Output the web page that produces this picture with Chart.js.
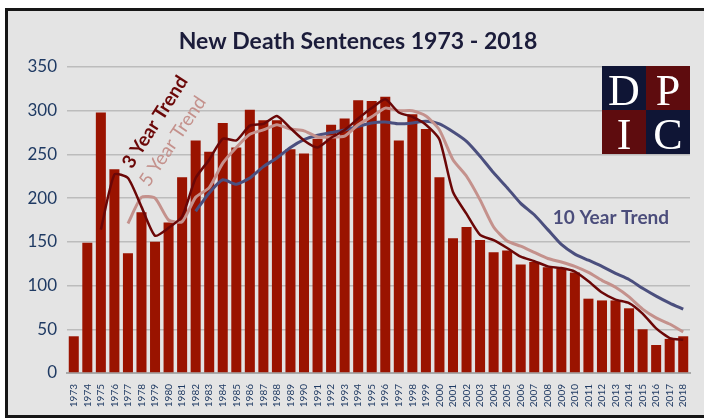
<!DOCTYPE html>
<html>
<head>
<meta charset="utf-8">
<script src="https://cdn.jsdelivr.net/npm/chart.js@4"></script>
<style>
body{margin:0;background:#fff;}
#frame{position:absolute;left:5px;top:8px;width:710px;height:404px;border:3px solid #161616;background:#e4e4e4;}
#myChart{position:absolute;left:0;top:0;}
</style>
</head>
<body>
<div id="frame"></div>
<canvas id="myChart" width="704" height="420"></canvas>
<script>
const years=['1973','1974','1975','1976','1977','1978','1979','1980','1981','1982','1983','1984','1985','1986','1987',
    '1988','1989','1990','1991','1992','1993','1994','1995','1996','1997','1998','1999','2000','2001','2002','2003',
    '2004','2005','2006','2007','2008','2009','2010','2011','2012','2013','2014','2015','2016','2017','2018'];

const sentences=[42,149,298,233,137,184,150,172,224,266,253,286,258,301,289,
    289,256,251,268,284,291,312,311,316,266,296,279,224,154,167,152,
    138,140,124,127,121,119,115,85,83,83,74,50,32,39,42];

const trend3=[null,null,164,227,223,190,157,166,179,223,244,268,266,283,285,
    294,280,266,258,269,278,291,303,313,298,293,284,267,207,182,158,
    152,143,133,128,122,120,116,105,92,84,80,68,51,40,38];

const trend5=[null,null,null,null,171,201,200,175,173,201,212,240,258,273,278,
    284,279,277,270,270,271,284,293,303,300,300,294,278,244,225,198,
    167,151,145,138,131,127,122,115,106,98,87,73,63,56,47];

const trend10=[null,null,null,null,null,null,null,null,null,185,206,221,216,223,236,
    246,258,267,272,275,278,282,286,287,285,286,288,285,276,265,248,
    229,212,194,181,164,147,136,129,122,114,107,97,88,80,73];

const yTicks=[0,50,100,150,200,250,300,350];

const navy='#1f3a63';

const extras={
    id:'extras',
    afterDatasetsDraw(chart){
        const ctx=chart.ctx;
        const x=chart.scales.x, y=chart.scales.y;
        ctx.save();
        // title
        ctx.fillStyle='#1b1c3a';
        ctx.font='bold 23px Lato';
        ctx.textAlign='center';
        ctx.textBaseline='middle';
        ctx.fillText('New Death Sentences 1973 - 2018',358,42);

        // trend labels
        const label=(txt,xi,v,ang,font,color)=>{
            ctx.save();
            ctx.translate(x.getPixelForValue(xi),y.getPixelForValue(v));
            ctx.rotate(ang*Math.PI/180);
            ctx.font=font;
            ctx.fillStyle=color;
            ctx.textAlign='center';
            ctx.textBaseline='middle';
            ctx.fillText(txt,0,0);
            ctx.restore();
        };
        label('3 Year Trend',6,287,-57.5,'bold 19px Lato','#6b0707');
        label('5 Year Trend',7.3,265,-56,'19px Lato','#c4918c');
        label('10 Year Trend',39.66,177,0,'bold 19px Lato','#4b4d7b');

        // DPIC logo
        const lx=602, ly=66, s=44;
        const cells=[['D','#0f1535',0,0],['P','#5e0c0e',1,0],['I','#5e0c0e',0,1],['C','#0f1535',1,1]];
        cells.forEach(c=>{
            ctx.fillStyle=c[1];
            ctx.fillRect(lx+c[2]*s,ly+c[3]*s,s,s);
            ctx.fillStyle='#ffffff';
            ctx.font='44px "Liberation Serif"';
            ctx.textAlign='center';
            ctx.textBaseline='alphabetic';
            ctx.fillText(c[0],lx+c[2]*s+s/2,ly+c[3]*s+s-5);
        });
        ctx.restore();
    }
};

const data={
    labels:years,
    datasets:[
        {type:'line',label:'3 Year Trend',data:trend3,borderColor:'#6b0707',borderWidth:2.5,pointRadius:0,tension:0.2,order:1},
        {type:'line',label:'5 Year Trend',data:trend5,borderColor:'#c4918c',borderWidth:3,pointRadius:0,tension:0.2,order:2},
        {type:'line',label:'10 Year Trend',data:trend10,borderColor:'#4b4f7e',borderWidth:3,pointRadius:0,tension:0.2,order:3},
        {type:'bar',label:'New Death Sentences',data:sentences,backgroundColor:'#9a1300',barPercentage:0.74,categoryPercentage:1,order:10}
    ]
};

const config={
    type:'bar',
    data,
    options:{
        responsive:false,
        animation:false,
        layout:{padding:{left:0,right:14,top:67,bottom:0}},
        plugins:{legend:{display:false},tooltip:{enabled:false}},
        scales:{
            x:{
                grid:{display:false},
                border:{display:true,color:'#a8a8a8',width:2},
                ticks:{autoSkip:false,maxRotation:90,minRotation:90,padding:3,color:navy,font:{family:'Lato',size:10}},
                afterFit(scale){scale.height=47;}
            },
            y:{
                min:0,max:350,
                afterBuildTicks(scale){scale.ticks=yTicks.map(v=>({value:v}));},
                grid:{color:'#bcbcbc',lineWidth:1.5,drawTicks:false},
                border:{display:false},
                ticks:{padding:10,color:navy,font:{family:'Lato',size:17}},
                afterFit(scale){scale.width=67;}
            }
        }
    },
    plugins:[extras]
};

const myChart=new Chart(document.getElementById('myChart'),config);
</script>
</body>
</html>
